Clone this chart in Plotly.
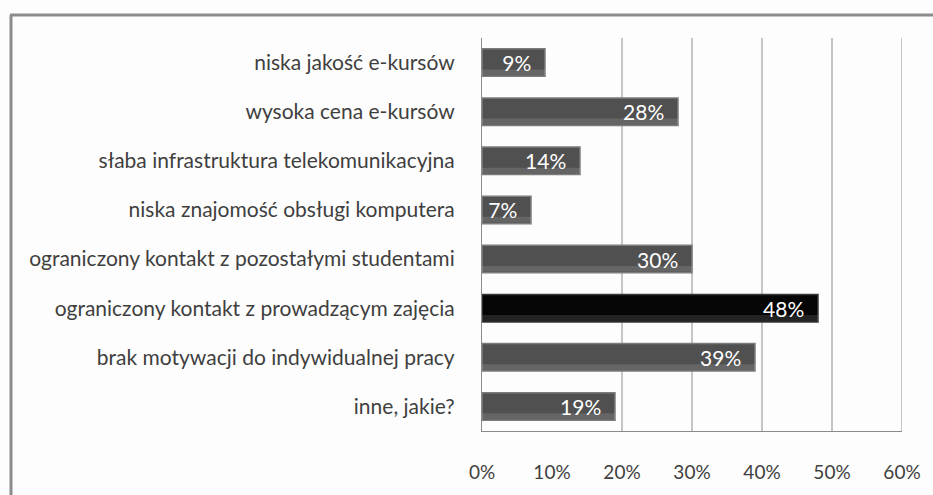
import plotly.graph_objects as go

# Data (top to bottom as shown)
categories = [
    "niska jakość e-kursów",
    "wysoka cena e-kursów",
    "słaba infrastruktura telekomunikacyjna",
    "niska znajomość obsługi komputera",
    "ograniczony kontakt z pozostałymi studentami",
    "ograniczony kontakt z prowadzącym zajęcia",
    "brak motywacji do indywidualnej pracy",
    "inne, jakie?",
]
values = [9, 28, 14, 7, 30, 48, 39, 19]
highlight = "ograniczony kontakt z prowadzącym zajęcia"
tick_vals = [0, 10, 20, 30, 40, 50, 60]
tick_text = ["0%", "10%", "20%", "30%", "40%", "50%", "60%"]
grid_vals = [20, 30, 40, 50, 60]  # 10% line is not visible in the original

W, H = 933, 495
L, R, T, B = 482, 902, 38, 431  # plot area in pixels

colors = ["#050505" if c == highlight else "#505050" for c in categories]
line_colors = ["#3a3a3a" if c == highlight else "#7c7c7c" for c in categories]

fig = go.Figure(go.Bar(
    x=values,
    y=categories,
    orientation="h",
    width=0.56,
    marker=dict(color=colors, line=dict(color=line_colors, width=1.5)),
    text=[f"{v}%\u00a0\u00a0" for v in values],
    textposition="inside",
    insidetextanchor="end",
    textangle=0,
    constraintext="none",
    insidetextfont=dict(family="Lato", size=21, color="white"),
    cliponaxis=False,
    showlegend=False,
))

# light highlight strip along the top of each bar (bevel look)
fig.add_trace(go.Bar(
    x=values,
    y=categories,
    orientation="h",
    width=0.12,
    offset=-0.26,
    marker=dict(color=["rgba(255,255,255,0.12)"] * len(values), line=dict(width=0)),
    hoverinfo="skip",
    showlegend=False,
))

shapes = []
for g in grid_vals:
    shapes.append(dict(type="line", xref="x", yref="paper", x0=g, x1=g, y0=0, y1=1,
                       line=dict(color="#a0a0a0", width=1.2), layer="below"))

# outer frame (left + top edges)
def px(x):
    return (x - L) / (R - L)

def py(y):
    return (B - y) / (B - T)

shapes.append(dict(type="line", xref="paper", yref="paper", x0=px(11), x1=px(11),
                   y0=py(15), y1=py(H + 5), line=dict(color="#8c8c8c", width=3)))
shapes.append(dict(type="line", xref="paper", yref="paper", x0=px(10), x1=px(W + 5),
                   y0=py(15), y1=py(15), line=dict(color="#8c8c8c", width=3)))

fig.update_layout(
    width=W,
    height=H,
    margin=dict(l=L, r=W - R, t=T, b=H - B),
    paper_bgcolor="#fdfdfd",
    plot_bgcolor="#fdfdfd",
    barmode="overlay",
    shapes=shapes,
    xaxis=dict(
        range=[0, 60],
        tickvals=tick_vals,
        ticktext=tick_text,
        showgrid=False,
        zeroline=False,
        showline=True,
        linecolor="#8a8a8a",
        linewidth=1.2,
        ticks="",
        ticklabelstandoff=24,
        tickfont=dict(family="Lato", size=19, color="#3f3f3f"),
        fixedrange=True,
    ),
    yaxis=dict(
        categoryorder="array",
        categoryarray=categories[::-1],
        showgrid=False,
        zeroline=False,
        showline=True,
        linecolor="#8a8a8a",
        linewidth=1.2,
        ticks="",
        ticklabelstandoff=22,
        tickfont=dict(family="Lato", size=21, color="#3f3f3f"),
        fixedrange=True,
    ),
)

fig.write_html(
    "out.html",
    config={"displayModeBar": False},
    post_script="document.body.style.margin='0';",
)
